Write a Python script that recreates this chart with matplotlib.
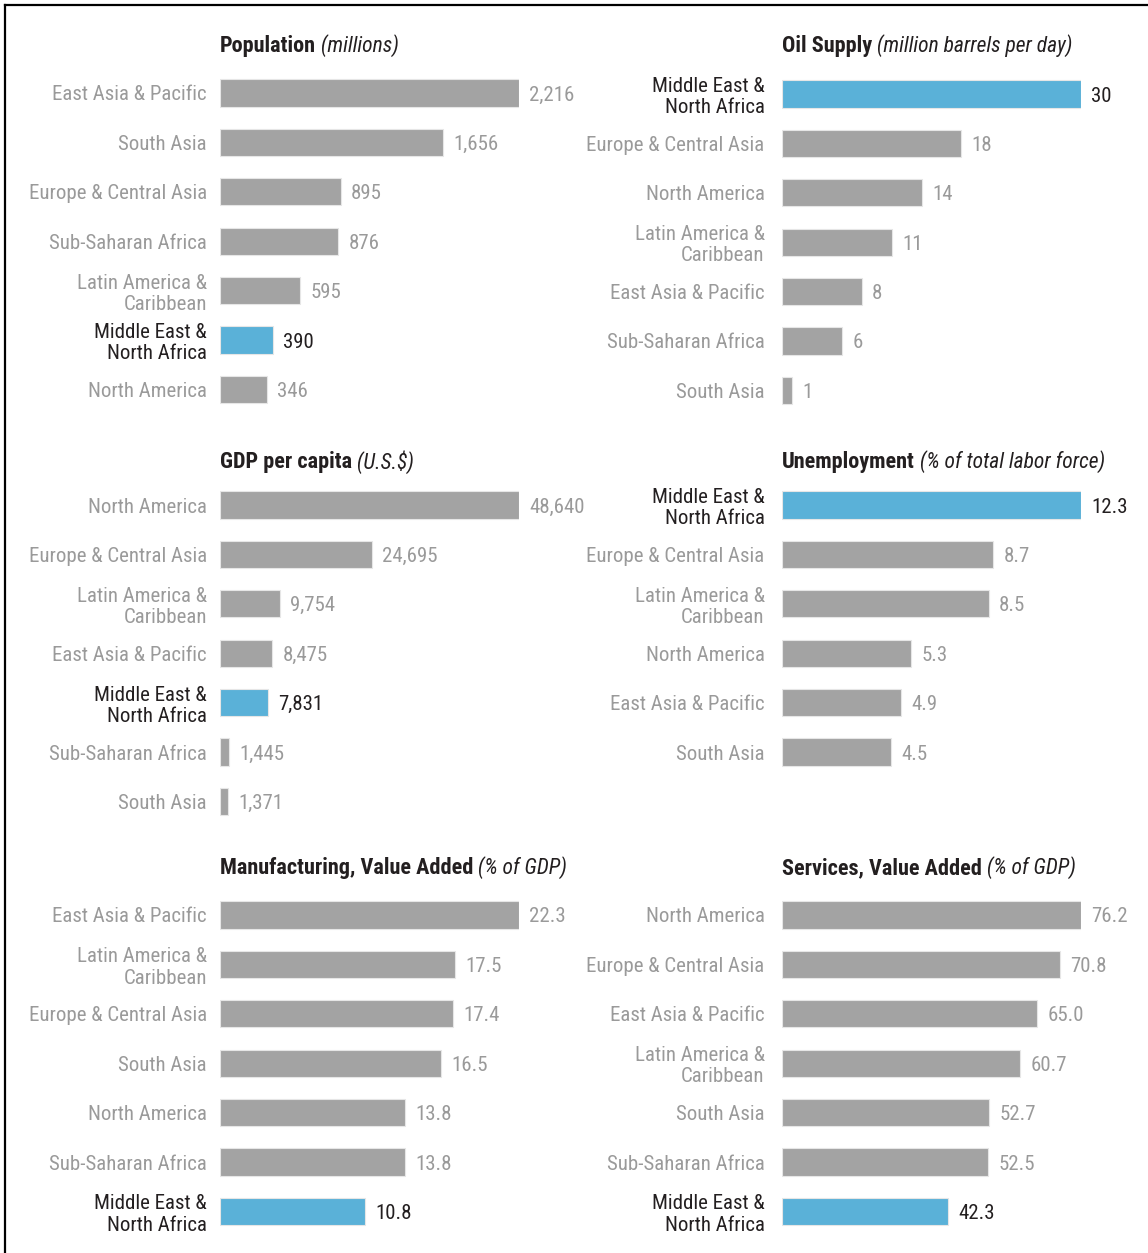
import matplotlib
matplotlib.use("Agg")
import matplotlib.pyplot as plt
from matplotlib import font_manager
from matplotlib.lines import Line2D

W, H = 1148, 1253
MENA = "Middle East &\nNorth Africa"
LAC = "Latin America &\nCaribbean"

pop_regions = ["East Asia & Pacific", "South Asia", "Europe & Central Asia", "Sub-Saharan Africa",
               LAC, MENA, "North America"]
pop_values = [2216, 1656, 895, 876, 595, 390, 346]

oil_regions = [MENA, "Europe & Central Asia", "North America", LAC,
               "East Asia & Pacific", "Sub-Saharan Africa", "South Asia"]
oil_values = [30, 18, 14, 11, 8, 6, 1]

gdp_regions = ["North America", "Europe & Central Asia", LAC, "East Asia & Pacific",
               MENA, "Sub-Saharan Africa", "South Asia"]
gdp_values = [48640, 24695, 9754, 8475, 7831, 1445, 1371]

unemp_regions = [MENA, "Europe & Central Asia", LAC, "North America",
                 "East Asia & Pacific", "South Asia"]
unemp_values = [12.3, 8.7, 8.5, 5.3, 4.9, 4.5]

manuf_regions = ["East Asia & Pacific", LAC, "Europe & Central Asia", "South Asia",
                 "North America", "Sub-Saharan Africa", MENA]
manuf_values = [22.3, 17.5, 17.4, 16.5, 13.8, 13.8, 10.8]

serv_regions = ["North America", "Europe & Central Asia", "East Asia & Pacific", LAC,
                "South Asia", "Sub-Saharan Africa", MENA]
serv_values = [76.2, 70.8, 65.0, 60.7, 52.7, 52.5, 42.3]

GRAY = "#a3a3a3"
BLUE = "#5ab1d8"
LABEL_GRAY = "#9a9a9a"
DARK = "#231f20"

# pick a narrow font if one is around
available = {f.name for f in font_manager.fontManager.ttflist}
narrow = [n for n in ["Liberation Sans Narrow", "Roboto Condensed", "DejaVu Sans Condensed",
                      "Open Sans Condensed", "Noto Sans Condensed", "Arial Narrow"] if n in available]
if narrow:
    plt.rcParams['font.family'] = [narrow[0], 'DejaVu Sans']
    FS = 15
else:
    plt.rcParams['font.family'] = ['Roboto', 'DejaVu Sans']
    FS = 13.5

# title, unit, regions, values, format, bar start x(px), first row y(px), title y(px), label pad
panels = [
    ("Population", "(millions)", pop_regions, pop_values, "{:,.0f}", 220, 93, 46, 9.5),
    ("Oil Supply", "(million barrels per day)", oil_regions, oil_values, "{:.0f}", 782, 94, 46, 12.5),
    ("GDP per capita", "(U.S.$)", gdp_regions, gdp_values, "{:,.0f}", 220, 505, 462, 9.5),
    ("Unemployment", "(% of total labor force)", unemp_regions, unemp_values, "{:.1f}", 782, 505, 462, 12.5),
    ("Manufacturing, Value Added", "(% of GDP)", manuf_regions, manuf_values, "{:.1f}", 220, 915, 868, 9.5),
    ("Services, Value Added", "(% of GDP)", serv_regions, serv_values, "{:.1f}", 782, 915, 868, 12.5),
]

ROW = 49.4
BAR_W = 299

fig = plt.figure(figsize=(W / 100, H / 100), dpi=100)
fig.patch.set_facecolor("white")

for title, unit, regions, values, fmt, x0, y0, ty, pad in panels:
    n = len(regions)
    top = y0 - ROW / 2
    ax = fig.add_axes([x0 / W, 1 - (top + n * ROW) / H, BAR_W / W, n * ROW / H])
    colors = [BLUE if r == MENA else GRAY for r in regions]
    bars = ax.barh(range(n), values, height=0.55, color=colors,
                   edgecolor="#e6e6e6", linewidth=0.8)
    ax.set_ylim(n - 0.5, -0.5)
    ax.set_xlim(0, max(values))
    ax.set_yticks(range(n), labels=regions)
    ax.set_xticks([])
    ax.tick_params(axis="y", length=0, pad=pad, labelsize=FS)
    for lab in ax.get_yticklabels():
        lab.set_linespacing(1.15)
        lab.set_color(DARK if lab.get_text() == MENA else LABEL_GRAY)
    for s in ax.spines.values():
        s.set_visible(False)
    ann = ax.bar_label(bars, labels=[fmt.format(v) for v in values], padding=7.5,
                       fontsize=FS, clip_on=False)
    for a, r in zip(ann, regions):
        a.set_color(DARK if r == MENA else LABEL_GRAY)
        a.set_va("center_baseline")

    t = fig.text(x0 / W, 1 - ty / H, title, fontsize=FS + 1, fontweight="bold",
                 color=DARK, ha="left", va="center")
    ax.annotate(" " + unit, xy=(1, 0.5), xycoords=t, fontsize=FS + 0.5, style="italic",
                color=DARK, ha="left", va="center", annotation_clip=False)

# frame on the left and top edges
fig.add_artist(Line2D([5 / W, 5 / W], [0, 1 - 5 / H], transform=fig.transFigure,
                      color="black", linewidth=1.6))
fig.add_artist(Line2D([5 / W, 1], [1 - 5 / H, 1 - 5 / H], transform=fig.transFigure,
                      color="black", linewidth=1.6))

fig.savefig("out.png", dpi=100)
